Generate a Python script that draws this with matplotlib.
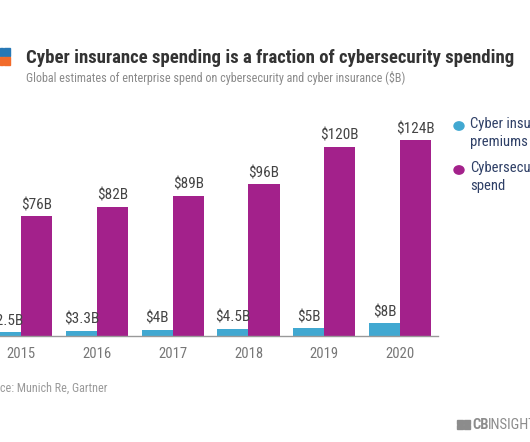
import matplotlib.pyplot as plt
import numpy as np
from matplotlib.patches import Rectangle, Circle

years = ['2015', '2016', '2017', '2018', '2019', '2020']
insurance = [2.5, 3.3, 4, 4.5, 5, 8]
security = [76, 82, 89, 96, 120, 124]
ins_labels = ['$2.5B', '$3.3B', '$4B', '$4.5B', '$5B', '$8B']
sec_labels = ['$76B', '$82B', '$89B', '$96B', '$120B', '$124B']

blue = '#41a8d1'
purple = '#a3218b'
W, H = 530, 442

plt.rcParams['font.family'] = ['Roboto Condensed', 'Roboto', 'DejaVu Sans']
fig = plt.figure(figsize=(W / 100, H / 100), dpi=100)

# axes: baseline at y=336 px, x from 0 to 438 px
ax = fig.add_axes([0, 106 / H, 438 / W, 221 / H])
x = np.arange(len(years))
w = 0.41
ax.bar(x - w / 2, insurance, w, color=blue)
ax.bar(x + w / 2, security, w, color=purple)
for i in range(len(years)):
    ax.text(x[i] - w / 2, insurance[i] + 2.5, ins_labels[i], ha='center', va='bottom',
            fontsize=11, color='#444444', clip_on=False)
    ax.text(x[i] + w / 2, security[i] + 2.5, sec_labels[i], ha='center', va='bottom',
            fontsize=11, color='#444444', clip_on=False)
ax.set_xlim(-0.277, 5.50)
ax.set_ylim(0, 140)
ax.set_xticks(x)
ax.set_xticklabels(years, fontsize=10.5, color='#777777')
ax.tick_params(axis='x', length=0, pad=8)
ax.set_yticks([])
for s in ['top', 'right', 'left']:
    ax.spines[s].set_visible(False)
ax.spines['bottom'].set_color('#999999')
ax.spines['bottom'].set_linewidth(1)


def px(xp, yp):
    return xp / W, 1 - yp / H


# title and subtitle
fig.text(*px(26, 58), 'Cyber insurance spending is a fraction of cybersecurity spending',
         fontsize=13.5, fontweight='bold', color='#333333', va='center', ha='left')
fig.text(*px(26, 78), 'Global estimates of enterprise spend on cybersecurity and cyber insurance ($B)',
         fontsize=8.7, color='#8a8a8a', va='center', ha='left')

# logo top-left
for (x0, y0, c) in [(0, 48, '#2778b5'), (4, 48, '#2778b5'), (0, 57, '#f26b2a'), (4, 57, '#f26b2a')]:
    fig.patches.append(Rectangle(px(x0, y0 + 8), 3 / W if x0 == 0 else 6 / W, 8 / H,
                                 transform=fig.transFigure, color=c))

# legend
leg_items = [(126, blue, ['Cyber insurance', 'premiums']),
             (170, purple, ['Cybersecurity', 'spend'])]
for yc, c, lines in leg_items:
    fig.patches.append(Circle(px(459, yc), 5 / W, transform=fig.transFigure, color=c))
    fig.text(*px(470, yc - 2), lines[0], fontsize=10.5, color='#2e3f66', va='center', ha='left')
    fig.text(*px(470, yc + 16), lines[1], fontsize=10.5, color='#2e3f66', va='center', ha='left')

# source
fig.text(*px(-22, 388), 'Source: Munich Re, Gartner', fontsize=8.7, color='#9a9a9a',
         va='center', ha='left')

# CB Insights mark
for (x0, y0) in [(457, 420), (464, 420), (457, 425), (464, 425)]:
    fig.patches.append(Rectangle(px(x0, y0 + 4), 6 / W, 4 / H, transform=fig.transFigure,
                                 color='#8c8c8c'))
fig.text(*px(472, 425), 'CB', fontsize=10.5, fontweight='bold', color='#8c8c8c', va='center', ha='left')
fig.text(*px(488, 425), 'INSIGHTS', fontsize=10.5, color='#8c8c8c', va='center', ha='left')

fig.savefig('out.png', dpi=100)
